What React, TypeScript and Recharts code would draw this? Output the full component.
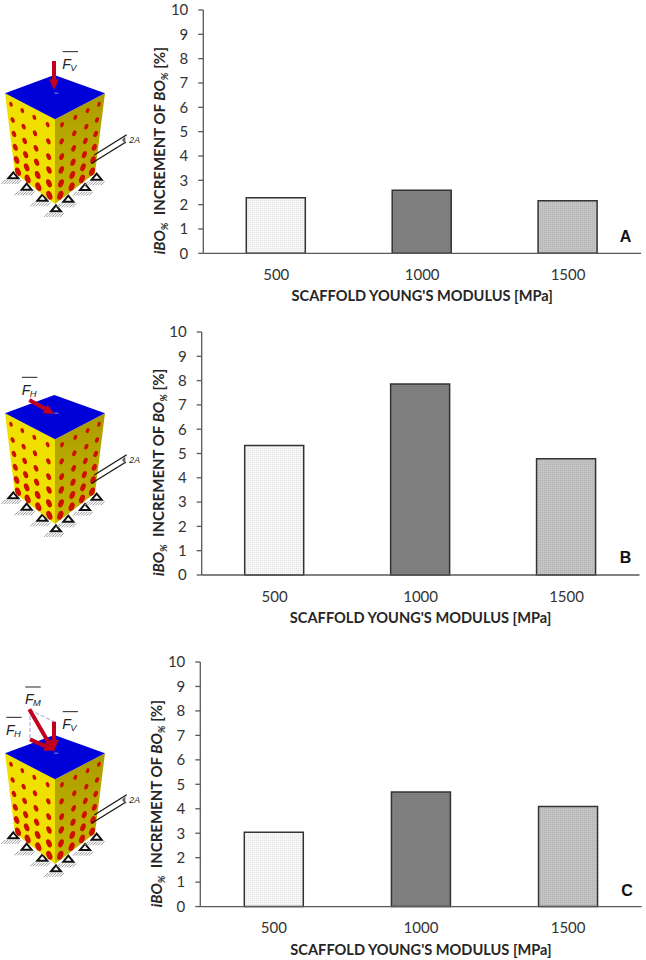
import { BarChart, Bar, XAxis, YAxis, Cell } from "recharts";

const categories = ["500", "1000", "1500"];
const valuesA = [2.28, 2.59, 2.16];
const valuesB = [5.33, 7.86, 4.78];
const valuesC = [3.04, 4.69, 4.09];
const yTicks = [0, 1, 2, 3, 4, 5, 6, 7, 8, 9, 10];
const edgeTicks = [0, 1, 2, 3];

const FONT = "Lato, 'Open Sans', sans-serif";
const AXIS = "#595959";

const panels = [
    { id: "A", values: valuesA, left: 203.3, right: 641, top: 10, bottom: 253.3, letterX: 625.5, letterY: 241.5 },
    { id: "B", values: valuesB, left: 201.7, right: 639.5, top: 332, bottom: 575, letterX: 625.5, letterY: 563 },
    { id: "C", values: valuesC, left: 200.3, right: 641.7, top: 661.7, bottom: 906.3, letterX: 627, letterY: 895.5 },
];

const CHART_LEFT = 140;
const fills = ["light", "mid", "soft"];

function YTitle({ x, y }: { x: number; y: number }) {
    const sub = { fontSize: 10, fontStyle: "italic" as const };
    return (
        <text
            transform={`translate(${x},${y}) rotate(-90)`}
            fontFamily={FONT}
            fontWeight={700}
            fontSize={15}
            fill="#262626"
        >
            <tspan fontStyle="italic">iBO</tspan>
            <tspan {...sub} dy={3}>%</tspan>
            <tspan dy={-3} xmlSpace="preserve">{"  INCREMENT OF "}</tspan>
            <tspan fontStyle="italic">BO</tspan>
            <tspan {...sub} dy={3}>%</tspan>
            <tspan dy={-3}>{" [%]"}</tspan>
        </text>
    );
}

function Panel({ panel }: { panel: (typeof panels)[number] }) {
    const rows = categories.map((name, i) => ({ name, value: panel.values[i] }));
    const plotH = panel.bottom - panel.top;
    const plotW = panel.right - panel.left;
    const yAxisW = panel.left - CHART_LEFT;
    return (
        <div style={{ position: "absolute", left: CHART_LEFT, top: panel.top - 10 }}>
            <BarChart
                width={yAxisW + plotW + 4}
                height={plotH + 64}
                data={rows}
                margin={{ top: 10, right: 4, bottom: 14, left: 0 }}
                barSize={59}
                style={{ overflow: "visible" }}
            >
                <defs>
                    <pattern id={`light-${panel.id}`} width="2" height="2" patternUnits="userSpaceOnUse">
                        <rect width="2" height="2" fill="#f6f6f6" />
                        <rect width="1" height="1" fill="#e4e4e4" />
                    </pattern>
                    <pattern id={`mid-${panel.id}`} width="2" height="2" patternUnits="userSpaceOnUse">
                        <rect width="2" height="2" fill="#808080" />
                        <rect width="1" height="1" fill="#787878" />
                    </pattern>
                    <pattern id={`soft-${panel.id}`} width="2" height="2" patternUnits="userSpaceOnUse">
                        <rect width="2" height="2" fill="#c4c4c4" />
                        <rect width="1" height="1" fill="#b0b0b0" />
                    </pattern>
                </defs>
                <XAxis
                    xAxisId="names"
                    dataKey="name"
                    height={35}
                    axisLine={false}
                    tickLine={false}
                    tickMargin={5}
                    interval={0}
                    tick={{ fontFamily: FONT, fontSize: 15, fill: "#333333" }}
                    label={{
                        value: "SCAFFOLD YOUNG'S MODULUS [MPa]",
                        position: "insideBottom",
                        offset: -8,
                        fontFamily: FONT,
                        fontWeight: 700,
                        fontSize: 14.6,
                        fill: "#262626",
                    }}
                />
                <XAxis
                    xAxisId="edges"
                    type="number"
                    domain={[0, 3]}
                    ticks={edgeTicks}
                    interval={0}
                    height={5}
                    tick={false}
                    tickSize={5}
                    stroke={AXIS}
                    strokeWidth={1.3}
                />
                <YAxis
                    domain={[0, 10]}
                    ticks={yTicks}
                    interval={0}
                    width={yAxisW}
                    tickSize={5}
                    tickMargin={10}
                    stroke={AXIS}
                    strokeWidth={1.3}
                    tick={{ fontFamily: FONT, fontSize: 15, fill: "#333333" }}
                />
                <Bar dataKey="value" xAxisId="names" isAnimationActive={false}>
                    {rows.map((row, i) => (
                        <Cell
                            key={row.name}
                            fill={`url(#${fills[i]}-${panel.id})`}
                            stroke="#333333"
                            strokeWidth={1.5}
                        />
                    ))}
                </Bar>
            </BarChart>
        </div>
    );
}

// scaffold sketch next to each chart, coordinates are at 3x
const leftHoles = [
    [33, 313], [67, 332], [103, 352], [143, 374],
    [38, 360], [71, 380], [105, 400], [145, 424],
    [42, 402], [74, 423], [108, 445], [146, 470],
    [46, 442], [77, 464], [110, 487], [147, 510],
    [50, 480], [80, 502], [113, 525], [147, 550],
    [54, 515], [83, 537], [115, 560], [148, 586],
];
const rightHoles = [
    [297, 313], [263, 332], [226, 352], [186, 374],
    [291, 360], [259, 380], [223, 400], [185, 424],
    [287, 402], [256, 423], [221, 445], [185, 470],
    [283, 442], [253, 464], [219, 487], [184, 510],
    [279, 480], [249, 502], [217, 525], [183, 550],
    [276, 515], [246, 537], [215, 560], [181, 586],
];
const supports = [
    [40, 528], [80, 562], [127, 595], [168, 627], [205, 598], [255, 563], [290, 532],
];

const RED = "#c00020";

function Force({ x1, y1, x2, y2, w = 12 }: { x1: number; y1: number; x2: number; y2: number; w?: number }) {
    const len = Math.hypot(x2 - x1, y2 - y1);
    const ux = (x2 - x1) / len;
    const uy = (y2 - y1) / len;
    const head = 32;
    const bx = x2 - ux * head;
    const by = y2 - uy * head;
    const hw = 15;
    return (
        <g>
            <line x1={x1} y1={y1} x2={bx} y2={by} stroke={RED} strokeWidth={w} />
            <polygon
                points={`${x2},${y2} ${bx - uy * hw},${by + ux * hw} ${bx + uy * hw},${by - ux * hw}`}
                fill={RED}
            />
        </g>
    );
}

function ForceLabel({ x, y, sub }: { x: number; y: number; sub: string }) {
    return (
        <g fontFamily="'Liberation Sans', sans-serif" fontStyle="italic" fill="#222222">
            <line x1={x + 1} y1={y - 52} x2={x + 47} y2={y - 52} stroke="#222222" strokeWidth={3} />
            <text x={x} y={y} fontSize={42}>F</text>
            <text x={x + 24} y={y + 6} fontSize={28}>{sub}</text>
        </g>
    );
}

function Scaffold({ dy, kind }: { dy: number; kind: string }) {
    return (
        <g transform={`translate(0,${dy}) scale(0.3333)`}>
            <defs>
                <linearGradient id={`face-${kind}`} x1="0" y1="0" x2="0" y2="1">
                    <stop offset="0" stopColor="#ab9c00" />
                    <stop offset="1" stopColor="#c8b800" />
                </linearGradient>
            </defs>
            {supports.map(([x, y], i) => (
                <g key={i}>
                    <g stroke="#9a9a9a" strokeWidth={3}>
                        {[-24, -16, -8, 0, 8, 16, 24].map((o) => (
                            <line key={o} x1={x + o} y1={y + 12} x2={x + o - 12} y2={y + 24} />
                        ))}
                    </g>
                    <polygon
                        points={`${x},${y - 11} ${x + 15},${y + 7} ${x - 15},${y + 7}`}
                        fill="#ffffff"
                        stroke="#111111"
                        strokeWidth={6}
                    />
                </g>
            ))}
            <polygon points="15,280 165,358 165,612 45,520" fill="#f0e000" />
            <polygon points="315,280 165,358 165,612 285,520" fill={`url(#face-${kind})`} />
            <polygon points="15,280 163,225 315,280 165,358" fill="#0000d8" />
            {leftHoles.map(([x, y], i) => (
                <ellipse key={i} cx={x} cy={y} rx={5 + i / 7} ry={7.5 + i / 3.5} fill="#cc1100" transform={`rotate(-22 ${x} ${y})`} />
            ))}
            {rightHoles.map(([x, y], i) => (
                <ellipse key={i} cx={x} cy={y} rx={5 + i / 7} ry={7.5 + i / 3.5} fill="#cc1100" transform={`rotate(22 ${x} ${y})`} />
            ))}
            <rect x={163} y={278} width={12} height={3} fill="#8c8cd0" />
            <g stroke="#111111" strokeWidth={3.5}>
                <line x1={283} y1={465} x2={380} y2={404} />
                <line x1={275} y1={490} x2={378} y2={426} />
            </g>
            <polygon points="376,408 366,420 376,432" fill="#666666" />
            <text x={388} y={430} fontFamily="'Liberation Sans', sans-serif" fontStyle="italic" fontSize={26} fill="#222222">2A</text>
            {kind === "A" && (
                <>
                    <Force x1={162} y1={183} x2={162} y2={270} />
                    <ForceLabel x={187} y={207} sub="V" />
                </>
            )}
            {kind === "B" && (
                <>
                    <Force x1={88} y1={240} x2={163} y2={282} />
                    <ForceLabel x={65} y={224} sub="H" />
                </>
            )}
            {kind === "C" && (
                <>
                    <g stroke="#b8b8e0" strokeWidth={4} strokeDasharray="12 6" fill="none">
                        <line x1={90} y1={150} x2={162} y2={185} />
                        <line x1={90} y1={150} x2={90} y2={238} />
                    </g>
                    <Force x1={162} y1={185} x2={162} y2={272} />
                    <Force x1={90} y1={238} x2={165} y2={272} />
                    <Force x1={88} y1={148} x2={160} y2={272} />
                    <ForceLabel x={75} y={133} sub="M" />
                    <ForceLabel x={18} y={224} sub="H" />
                    <ForceLabel x={187} y={207} sub="V" />
                </>
            )}
        </g>
    );
}

export default function App() {
    return (
        <div style={{ position: "absolute", left: 0, top: 0, width: 646, height: 960, background: "#ffffff", overflow: "hidden" }}>
            {panels.map((p) => (
                <Panel key={p.id} panel={p} />
            ))}
            <svg width={646} height={960} style={{ position: "absolute", left: 0, top: 0, pointerEvents: "none" }}>
                <Scaffold dy={0} kind="A" />
                <Scaffold dy={320} kind="B" />
                <Scaffold dy={660} kind="C" />
                {panels.map((p) => (
                    <g key={p.id}>
                        <YTitle x={p.left - 38} y={p.bottom + 1} />
                        <text
                            x={p.letterX}
                            y={p.letterY}
                            textAnchor="middle"
                            fontFamily="'Liberation Sans', sans-serif"
                            fontWeight={700}
                            fontSize={16}
                            fill="#111111"
                        >
                            {p.id}
                        </text>
                    </g>
                ))}
            </svg>
        </div>
    );
}
